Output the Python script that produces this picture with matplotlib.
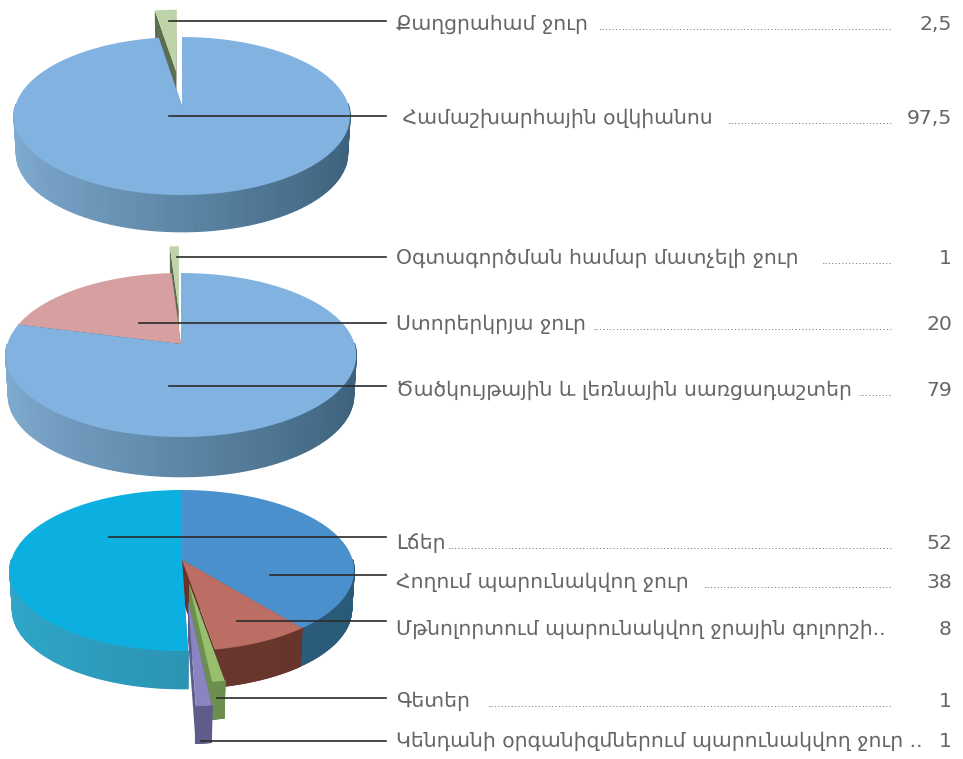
import numpy as np
from matplotlib import pyplot as plt
from matplotlib.colors import to_rgb

# shares, clockwise from 12 o'clock
shares_1 = [97.5, 2.5]
shares_2 = [79, 20, 1]
shares_3 = [39.1, 8.2, 1.0, 1.2, 50.5]   # the drawn slices differ a bit from the printed numbers

labels_1 = ["Քաղցրահամ ջուր", " Համաշխարհային օվկիանոս"]
values_1 = ["2,5", "97,5"]
labels_2 = ["Օգտագործման համար մատչելի ջուր", "Ստորերկրյա ջուր", "Ծածկույթային և լեռնային սառցադաշտեր"]
values_2 = ["1", "20", "79"]
labels_3 = ["Լճեր", "Հողում պարունակվող ջուր", "Մթնոլորտում պարունակվող ջրային գոլորշի..",
            "Գետեր", "Կենդանի օրգանիզմներում պարունակվող ջուր .."]
values_3 = ["52", "38", "8", "1", "1"]

LINE_END = 386
TEXT_X = 396
VALUE_X = 952
DOTS_END = 893


def project(p, X, Y, bottom=False):
	w = 1 + p["k"] * Y
	x = p["rx"] * X / w
	y = p["a"] * Y / w
	if bottom:
		return p["cx"] + 0.985 * x, p["cy"] - 0.985 * y + p["depth"]
	return p["cx"] + x, p["cy"] - y


def wedge_xy(share_from, share_to, explode):
	t = np.radians(np.linspace(share_from, share_to, 160) * 3.6)
	mid = (t[0] + t[-1]) / 2
	return np.sin(t), np.cos(t), explode * np.sin(mid), explode * np.cos(mid)


def draw_slice(ax, p, share_from, share_to, top, wall, explode=0):
	X, Y, ox, oy = wedge_xy(share_from, share_to, explode)
	X = X + ox
	Y = Y + oy
	left, right = to_rgb(wall[0]), to_rgb(wall[1])
	# the two cut faces
	for i in (0, -1):
		xa, ya = project(p, ox, oy)
		xb, yb = project(p, X[i], Y[i])
		xc, yc = project(p, X[i], Y[i], True)
		xd, yd = project(p, ox, oy, True)
		ax.fill([xa, xb, xc, xd], [ya, yb, yc, yd], color=right, lw=0)
	# outer wall, shaded from left to right
	for i in range(len(X) - 1):
		if Y[i] - oy > 0 and Y[i + 1] - oy > 0:
			continue
		x1, y1 = project(p, X[i:i + 2], Y[i:i + 2])
		x2, y2 = project(p, X[i:i + 2], Y[i:i + 2], True)
		f = np.clip((X[i] - ox + 1) / 2, 0, 1)
		c = [left[j] + (right[j] - left[j]) * f for j in range(3)]
		ax.fill(np.r_[x1, x2[::-1]], np.r_[y1, y2[::-1]], facecolor=c, edgecolor=c, lw=1.0, joinstyle="bevel")
	xt, yt = project(p, X, Y)
	xa, ya = project(p, ox, oy)
	ax.fill(np.r_[xa, xt], np.r_[ya, yt], color=top, lw=0)


def draw_pie(ax, p, shares, tops, walls, explode, order):
	edges = np.r_[0, np.cumsum(shares)]
	for i in order:
		draw_slice(ax, p, edges[i], edges[i + 1], tops[i], walls[i], explode[i])


def make_pie(cx, cy, up, down, rx, depth):
	k = (down - up) / (down + up)
	return dict(cx=cx, cy=cy, k=k, a=up * (1 + k), rx=rx * 0.992, depth=depth)


def draw_rows(ax, labels, values, line_y, line_x, base_y, dots_x):
	for i in range(len(labels)):
		ax.plot([line_x[i], LINE_END], [line_y[i], line_y[i]], color="#2b2b2b", lw=1.2, zorder=5)
		ax.text(TEXT_X, base_y[i], labels[i], fontsize=FONT, color=TEXT, va="baseline", ha="left", zorder=6)
		ax.text(VALUE_X, base_y[i], values[i], fontsize=FONT, color=TEXT, va="baseline", ha="right", zorder=6)
		if dots_x[i] is not None:
			n = int((DOTS_END - dots_x[i]) / 3.3)
			ax.text(DOTS_END, base_y[i], "." * n, fontsize=7.5, color=TEXT, va="baseline", ha="right", zorder=6)


FONT = 14.7
TEXT = "#666666"
BLUE_WALL = ("#7fabd0", "#3c617c")

fig = plt.figure(figsize=(9.63, 7.59), dpi=100)
ax = fig.add_axes([0, 0, 1, 1])
ax.set_xlim(0, 963)
ax.set_ylim(759, 0)
ax.axis("off")

p1 = make_pie(182, 106, 69, 89, 168, 38)
draw_pie(ax, p1, shares_1, ["#82b3e0", "#bfd3a8"], [BLUE_WALL, ("#5c6e52", "#5c6e52")], [0, 0.47], [1, 0])

p2 = make_pie(181, 344, 71, 93, 175, 41)
draw_pie(ax, p2, shares_2, ["#82b3e0", "#d6a0a0", "#bfd3a8"],
	[BLUE_WALL, ("#a87878", "#a87878"), ("#5c6e52", "#5c6e52")], [0, 0, 0.45], [2, 1, 0])

p3 = make_pie(182, 560, 70, 91, 172, 39)
draw_pie(ax, p3, shares_3, ["#4a90cc", "#bc6e64", "#98be6e", "#8a85c0", "#0cb0e0"],
	[("#2f6488", "#2a5a78"), ("#6f3a30", "#65342b"), ("#6c8f50", "#6c8f50"),
	 ("#5f5c8c", "#5f5c8c"), ("#2fa6ca", "#27849c")],
	[0, 0, 0.29, 0.49, 0], [0, 1, 4, 2, 3])

draw_rows(ax, labels_1, values_1, [21, 116], [169, 169], [30, 124], [604, 729])
draw_rows(ax, labels_2, values_2, [257, 323, 386], [177, 139, 169], [264, 330, 396], [821, 597, 859])
draw_rows(ax, labels_3, values_3, [537, 575, 621, 698, 741], [109, 270, 237, 217, 201],
	[549, 588, 635, 707, 747], [456, 707, None, 495, None])

fig.savefig("out.png", dpi=100)
